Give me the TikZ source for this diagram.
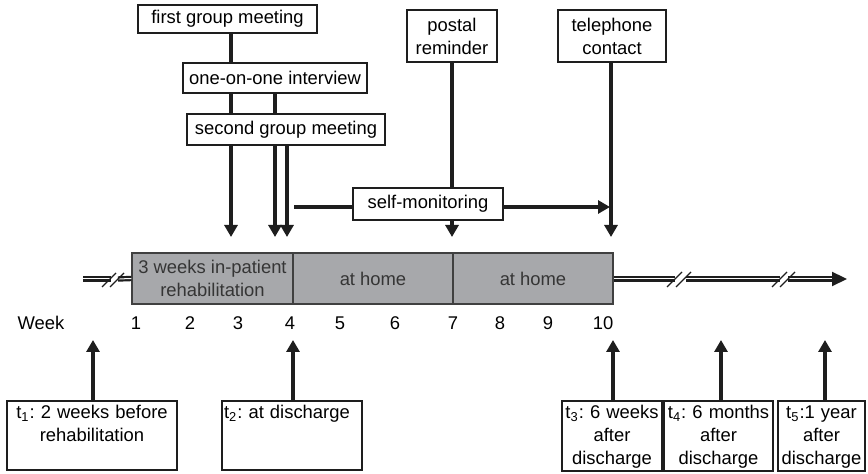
\documentclass[tikz,border=0pt]{standalone}
\usepackage{fontspec}
\setmainfont{Liberation Sans}
\usetikzlibrary{arrows.meta,backgrounds}
\frenchspacing
\definecolor{phasegray}{HTML}{A7A8AB}
\definecolor{ink}{HTML}{1E1E1E}
\tikzset{
    note/.style={draw=ink, fill=white, line width=0.6pt, inner sep=0pt, align=center},
    stage/.style={draw=ink!85, fill=phasegray, text=ink!90, line width=0.6pt,
        minimum height=25.5pt, minimum width=80pt, inner sep=0pt, align=center},
    timept/.style={draw=ink, fill=white, line width=0.6pt, inner xsep=1pt,
        inner ysep=2pt, text height=7pt},
    cue/.style={draw=ink, line width=2pt, -{Triangle[length=6pt,width=6.5pt]}},
    axis/.style={draw=ink, line width=1.1pt, double=white, double distance=0.5pt},
    cut/.style={draw=ink, line width=0.6pt},
}
\begin{document}
\begin{tikzpicture}[x=0.5pt, y=-0.5pt, font=\fontsize{9.2}{11.5}\selectfont]
    \useasboundingbox (0,0) rectangle (868,474);
    % interventions
    \node[note, minimum width=89.5pt, minimum height=14pt] (grp1) at (227.5,19) {first group meeting};
    \node[note, minimum width=92pt, minimum height=15pt] (talk) at (275,78) {one-on-one interview};
    \node[note, minimum width=99pt, minimum height=15.5pt] (grp2) at (286,129.5) {second group meeting};
    \node[note, minimum width=45pt, minimum height=26pt] (post) at (452,36) {postal\\reminder};
    \node[note, minimum width=54pt, minimum height=26pt] (phone) at (612,36) {telephone\\contact};
    \node[note, minimum width=75pt, minimum height=16pt] (selfm) at (428,204) {self-monitoring};
    % phases
    \node[stage, minimum width=80.5pt] (rehab) at (212.5,278.5) {3 weeks in-patient\\rehabilitation};
    \node[stage] (home1) at (373,278.5) {at home};
    \node[stage] (home2) at (533,278.5) {at home};
    % weeks
    \path
        (41,323) node (wkl) {Week}
        (136,323) node (wk1) {1}
        (190,323) node (wk2) {2}
        (238,323) node (wk3) {3}
        (290,323) node (wk4) {4}
        (340,323) node (wk5) {5}
        (395,323) node (wk6) {6}
        (453,323) node (wk7) {7}
        (500,323) node (wk8) {8}
        (548,323) node (wk9) {9}
        (603,323) node (wk10) {10};
    % measurements
    \node[timept, text width=83pt, align=center, text depth=23.5pt] (t1) at (92,435.5)
        {t\textsubscript{1}: 2 weeks before\\rehabilitation};
    \node[timept, text width=68pt, align=left, text depth=23.5pt] (t2) at (292,435.5)
        {t\textsubscript{2}: at discharge};
    \node[timept, text width=48pt, align=center, text depth=24pt] (t3) at (612,436)
        {t\textsubscript{3}: 6 weeks\\after\\discharge};
    \node[timept, text width=52.5pt, align=center, text depth=24pt] (t4) at (718.5,436)
        {t\textsubscript{4}: 6 months\\after\\discharge};
    \node[timept, text width=41.5pt, align=center, text depth=24pt] (t5) at (821.5,436)
        {t\textsubscript{5}:1 year\\after\\discharge};
    % arrow ends
    \coordinate (a1) at (231,237);
    \coordinate (a2) at (275,237);
    \coordinate (a3) at (287,237);
    \coordinate (a4) at (452,237);
    \coordinate (a5) at (611,237);
    \coordinate (sm0) at (294,207);
    \coordinate (sm1) at (610,207);
    \coordinate (m1) at (93,340);
    \coordinate (m2) at (293,340);
    \coordinate (m3) at (613,340);
    \coordinate (m4) at (721,340);
    \coordinate (m5) at (825,340);
    \begin{scope}[on background layer]
    \draw[cue] (grp1.south -| a1) -- (a1);
    \draw[cue] (talk.south -| a2) -- (a2);
    \draw[cue] (grp2.south -| a3) -- (a3);
    \draw[cue] (post.south -| a4) -- (a4);
    \draw[cue] (phone.south -| a5) -- (a5);
    \draw[cue] (sm0) -- (sm1);
    \end{scope}
    \draw[cue] (t1.north -| m1) -- (m1);
    \draw[cue] (t2.north -| m2) -- (m2);
    \draw[cue] (t3.north -| m3) -- (m3);
    \draw[cue] (t4.north -| m4) -- (m4);
    \draw[cue] (t5.north -| m5) -- (m5);
    % time axis with breaks
    \coordinate (ax0) at (83,279);
    \coordinate (axend) at (847,279);
    \draw[axis] (ax0) -- (111,279);
    \draw[axis] (118,279) -- (rehab.west);
    \draw[axis] (home2.east |- ax0) -- (675,279);
    \draw[axis] (686,279) -- (780,279);
    \draw[axis, -{Triangle[length=7.5pt,width=7pt]}] (788,279) -- (axend);
    \draw[cut] (102,287) -- (116,273) (110,287) -- (124,273);
    \draw[cut] (667,287) -- (682,272) (676,287) -- (691,272);
    \draw[cut] (772,287) -- (787,272) (780,287) -- (795,272);
\end{tikzpicture}
\end{document}
